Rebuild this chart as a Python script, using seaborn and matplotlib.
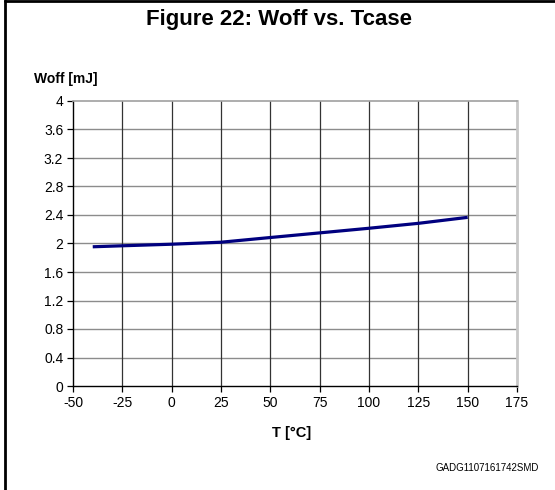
import matplotlib
matplotlib.use("Agg")
import matplotlib.pyplot as plt
import seaborn as sns
import pandas as pd
from matplotlib.lines import Line2D

temps = [-40, -25, 0, 25, 50, 75, 100, 125, 150]
woff = [1.954, 1.968, 1.99, 2.018, 2.084, 2.149, 2.214, 2.283, 2.367]
x_ticks = [-50, -25, 0, 25, 50, 75, 100, 125, 150, 175]
y_ticks = [0, 0.4, 0.8, 1.2, 1.6, 2, 2.4, 2.8, 3.2, 3.6, 4]
y_tick_labels = ["0", "0.4", "0.8", "1.2", "1.6", "2", "2.4", "2.8", "3.2", "3.6", "4"]

sns.set_style("white")
plt.rcParams['font.family'] = ['Liberation Sans', 'DejaVu Sans']
plt.rcParams['text.color'] = 'black'
plt.rcParams['xtick.color'] = 'black'
plt.rcParams['ytick.color'] = 'black'

fig = plt.figure(figsize=(5.55, 4.9), dpi=100)
ax = fig.add_axes([73/555, 1-386/490, (517-73)/555, (386-101)/490])

df = pd.DataFrame({"T": temps, "Woff": woff})
sns.lineplot(data=df, x="T", y="Woff", ax=ax, color="#00007f", linewidth=2.3, solid_capstyle="butt")

ax.set_xlim(-50, 175)
ax.set_ylim(0, 4)
ax.set_xticks(x_ticks)
ax.set_xticklabels([str(t) for t in x_ticks])
ax.set_yticks(y_ticks)
ax.set_yticklabels(y_tick_labels)
ax.set_xlabel("")
ax.set_ylabel("")

for y in y_ticks[1:-1]:
    ax.axhline(y, color="#8c8c8c", linewidth=1.0, zorder=0)
for x in x_ticks[1:-1]:
    ax.axvline(x, color="#333333", linewidth=0.9, zorder=0)

ax.spines['left'].set_color("#000000")
ax.spines['left'].set_linewidth(1.0)
ax.spines['bottom'].set_color("#000000")
ax.spines['bottom'].set_linewidth(1.0)
ax.spines['top'].set_color("#a0a0a0")
ax.spines['top'].set_linewidth(1.2)
ax.spines['right'].set_color("#c8c8c8")
ax.spines['right'].set_linewidth(2.0)

ax.tick_params(axis='both', which='major', direction='out', length=4, width=0.9,
               color="#000000", labelsize=10, labelcolor="#000000", pad=3,
               left=True, bottom=True)

fig.text(279/555, 1-24.5/490, "Figure 22: Woff vs. Tcase", ha="center", va="baseline",
         fontsize=16, fontweight="bold", color="black")
fig.text(34/555, 1-82.5/490, "Woff [mJ]", ha="left", va="baseline", fontsize=10,
         fontweight="bold", color="black")
fig.text(292/555, 1-437/490, "T [°C]", ha="center", va="baseline", fontsize=10.5,
         fontweight="bold", color="black")
fig.text(539/555, 1-467.5/490, "GADG1107161742SMD", ha="right", va="center", fontsize=7,
         color="black")

fig.add_artist(Line2D([5/555, 5/555], [0, 1], transform=fig.transFigure, color="black", linewidth=2.0))
fig.add_artist(Line2D([5/555, 1], [1-1.5/490, 1-1.5/490], transform=fig.transFigure, color="black", linewidth=2.0))

fig.savefig("out.png", dpi=100)
